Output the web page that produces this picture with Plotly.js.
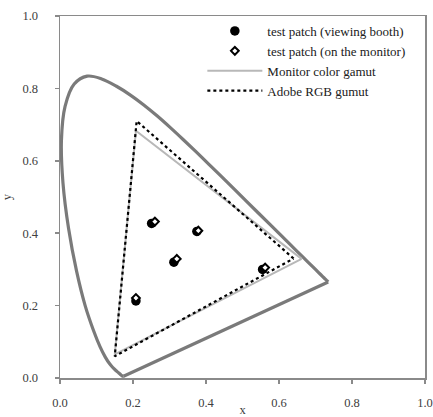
<!DOCTYPE html>
<html>
<head>
<meta charset="utf-8">
<script src="https://cdn.plot.ly/plotly-3.0.1.min.js"></script>
<style>html,body{margin:0;padding:0;background:#fff;}#chart{width:433px;height:417px;}</style>
</head>
<body>
<div id="chart"></div>
<script>
// CIE 1931 spectral locus (x, y), 380 nm to 700 nm
const locusX = [0.1741,0.1740,0.1738,0.1736,0.1733,0.1730,0.1726,0.1721,0.1714,0.1703,0.1689,0.1669,0.1644,0.1611,0.1566,0.1510,0.1440,0.1355,0.1241,0.1096,0.0913,0.0687,0.0454,0.0235,0.0082,0.0039,0.0139,0.0389,0.0743,0.1142,0.1547,0.1929,0.2296,0.2658,0.3016,0.3373,0.3731,0.4087,0.4441,0.4788,0.5125,0.5448,0.5752,0.6029,0.6270,0.6482,0.6658,0.6801,0.6915,0.7006,0.7079,0.7140,0.7190,0.7230,0.7260,0.7283,0.7300,0.7327,0.7334,0.7347];
const locusY = [0.0050,0.0050,0.0049,0.0049,0.0048,0.0048,0.0048,0.0048,0.0051,0.0058,0.0069,0.0086,0.0109,0.0138,0.0177,0.0227,0.0297,0.0399,0.0578,0.0868,0.1327,0.2007,0.2950,0.4127,0.5384,0.6548,0.7502,0.8120,0.8338,0.8262,0.8059,0.7816,0.7543,0.7243,0.6923,0.6589,0.6245,0.5896,0.5547,0.5202,0.4866,0.4544,0.4242,0.3965,0.3725,0.3514,0.3340,0.3197,0.3083,0.2993,0.2920,0.2859,0.2809,0.2770,0.2740,0.2717,0.2700,0.2673,0.2666,0.2653];
// Purple line closing the locus (700 nm to 380 nm)
const purpleX = [0.7347, 0.1741];
const purpleY = [0.2653, 0.0050];

// Monitor color gamut (R, G, B, R)
const monitorX = [0.662, 0.208, 0.150, 0.662];
const monitorY = [0.329, 0.683, 0.065, 0.329];

// Adobe RGB gamut (R, G, B, R)
const adobeX = [0.64, 0.21, 0.15, 0.64];
const adobeY = [0.33, 0.71, 0.06, 0.33];

// Test patches
const boothX = [0.251, 0.375, 0.312, 0.208, 0.555];
const boothY = [0.427, 0.405, 0.320, 0.213, 0.300];
const monX = [0.260, 0.379, 0.320, 0.208, 0.562];
const monY = [0.432, 0.407, 0.329, 0.221, 0.305];

const locusLine = {color: '#7a7a7a', width: 3.2};
const traces = [
  {x: locusX, y: locusY, mode: 'lines', line: Object.assign({shape: 'spline', smoothing: 1}, locusLine), showlegend: false, hoverinfo: 'skip'},
  {x: purpleX, y: purpleY, mode: 'lines', line: locusLine, showlegend: false, hoverinfo: 'skip'},
  {x: monitorX, y: monitorY, mode: 'lines', name: 'Monitor color gamut', legendrank: 3,
   line: {color: '#b8b8b8', width: 2}},
  {x: adobeX, y: adobeY, mode: 'lines', name: 'Adobe RGB gumut', legendrank: 4,
   line: {color: '#000000', width: 2.2, dash: 'dot'}},
  {x: boothX, y: boothY, mode: 'markers', name: 'test patch (viewing booth)', legendrank: 1,
   marker: {symbol: 'circle', size: 9.5, color: '#000000'}},
  {x: monX, y: monY, mode: 'markers', name: 'test patch (on the monitor)', legendrank: 2,
   marker: {symbol: 'diamond', size: 6, color: '#ffffff', line: {color: '#000000', width: 2}}}
];

const axisCommon = {
  range: [0, 1], dtick: 0.2, tickformat: '.1f',
  showgrid: false, zeroline: false,
  showline: true, linecolor: '#8a8a8a', linewidth: 1.5, mirror: true,
  ticks: 'outside', ticklen: 4, tickcolor: '#8a8a8a', tickwidth: 1.5,
  tickfont: {family: 'Liberation Serif, serif', size: 12.5, color: '#404040'},
  fixedrange: true
};

const layout = {
  width: 433, height: 417,
  margin: {l: 60, r: 8, t: 16, b: 39},
  paper_bgcolor: '#ffffff', plot_bgcolor: '#ffffff',
  showlegend: true,
  legend: {x: 0.39, y: 1.0, xanchor: 'left', yanchor: 'top', bgcolor: 'rgba(0,0,0,0)',
    font: {family: 'Liberation Serif, serif', size: 13, color: '#202020'},
    itemwidth: 55, tracegroupgap: 0},
  xaxis: Object.assign({}, axisCommon, {
    ticklabelstandoff: 8,
    title: {text: 'x', standoff: 2, font: {family: 'Liberation Serif, serif', size: 12.5, color: '#404040'}}
  }),
  yaxis: Object.assign({}, axisCommon, {
    ticklabelstandoff: 14,
    title: {text: 'y', standoff: 8, font: {family: 'Liberation Serif, serif', size: 12.5, color: '#404040'}}
  })
};

Plotly.newPlot('chart', traces, layout, {displayModeBar: false, staticPlot: true});
</script>
</body>
</html>
